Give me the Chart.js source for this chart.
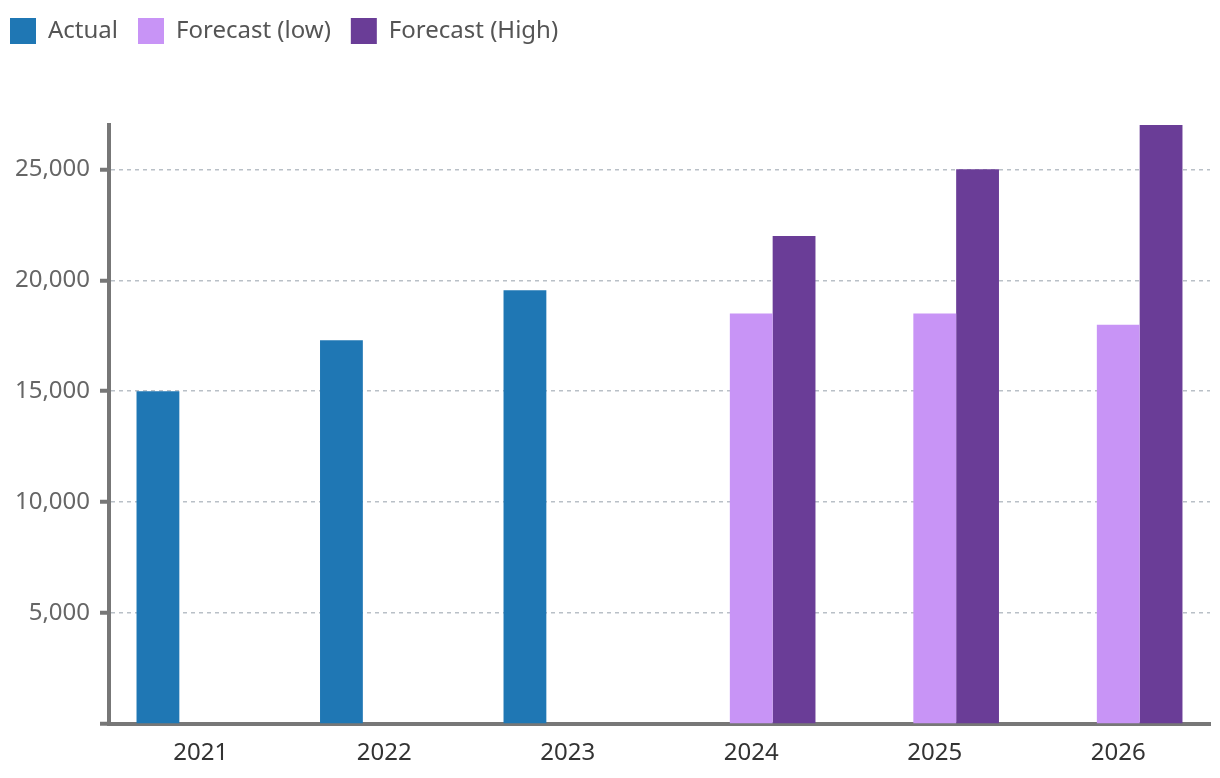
<!DOCTYPE html>
<html>
<head>
<meta charset="utf-8">
<script src="https://cdn.jsdelivr.net/npm/chart.js@4"></script>
<style>
  html, body { margin: 0; padding: 0; background: #fff; }
  #wrap { width: 1220px; height: 778px; }
</style>
</head>
<body>
<div id="wrap"><canvas id="barChart"></canvas></div>
<script>
// ==========================
// Data
// ==========================
const years = ['2021', '2022', '2023', '2024', '2025', '2026'];
const actualValues = [15000, 17300, 19550, null, null, null];
const forecastLowValues = [null, null, null, 18500, 18500, 18000];
const forecastHighValues = [null, null, null, 22000, 25000, 27000];
const yTickValues = [0, 5000, 10000, 15000, 20000, 25000];

// Legend sits alone in a tall strip above the plot
const legendHeight = {
  id: 'legendHeight',
  beforeInit(chart) {
    const fit = chart.legend.fit;
    chart.legend.fit = function () {
      fit.call(this);
      this.height = 127;
    };
  }
};

const ctx = document.getElementById('barChart').getContext('2d');

new Chart(ctx, {
  type: 'bar',
  data: {
    labels: years,
    datasets: [
      { label: 'Actual', data: actualValues, backgroundColor: '#1f77b4' },
      { label: 'Forecast (low)', data: forecastLowValues, backgroundColor: '#c894f6' },
      { label: 'Forecast (High)', data: forecastHighValues, backgroundColor: '#6a3d97' }
    ]
  },
  options: {
    responsive: true,
    maintainAspectRatio: false,
    animation: false,
    categoryPercentage: 0.7,
    barPercentage: 1.0,
    layout: { padding: { left: -10, top: -2, right: 10, bottom: 0 } },
    font: { family: '"Noto Sans", sans-serif', size: 24 },
    plugins: {
      tooltip: { enabled: false },
      legend: {
        position: 'top',
        align: 'start',
        labels: {
          boxWidth: 26,
          boxHeight: 26,
          padding: 20,
          color: '#555',
          font: { family: '"Noto Sans", sans-serif', size: 24 }
        }
      }
    },
    scales: {
      x: {
        grid: { display: false },
        border: { display: true, color: '#777', width: 4 },
        ticks: {
          color: '#333',
          padding: 7,
          font: { family: '"Noto Sans", sans-serif', size: 24 }
        },
        afterFit(scale) { scale.height = 54; }
      },
      y: {
        min: 0,
        max: 27000,
        ticks: {
          stepSize: 5000,
          color: '#666',
          padding: 10,
          font: { family: '"Noto Sans", sans-serif', size: 24 },
          callback: (value) => value === 0 ? '' : Number(value).toLocaleString('en-US')
        },
        afterBuildTicks(scale) {
          scale.ticks = yTickValues.map(v => ({ value: v }));
        },
        afterFit(scale) { scale.width = 119; },
        grid: {
          color: (c) => (c.tick && c.tick.value === 0) ? 'rgba(0,0,0,0)' : '#b9c0c7',
          lineWidth: 1.5,
          tickLength: 9,
          tickWidth: 4,
          tickColor: '#777',
          tickBorderDash: []
        },
        border: { display: true, color: '#777', width: 4, dash: [4, 4] }
      }
    }
  },
  plugins: [legendHeight]
});
</script>
</body>
</html>
